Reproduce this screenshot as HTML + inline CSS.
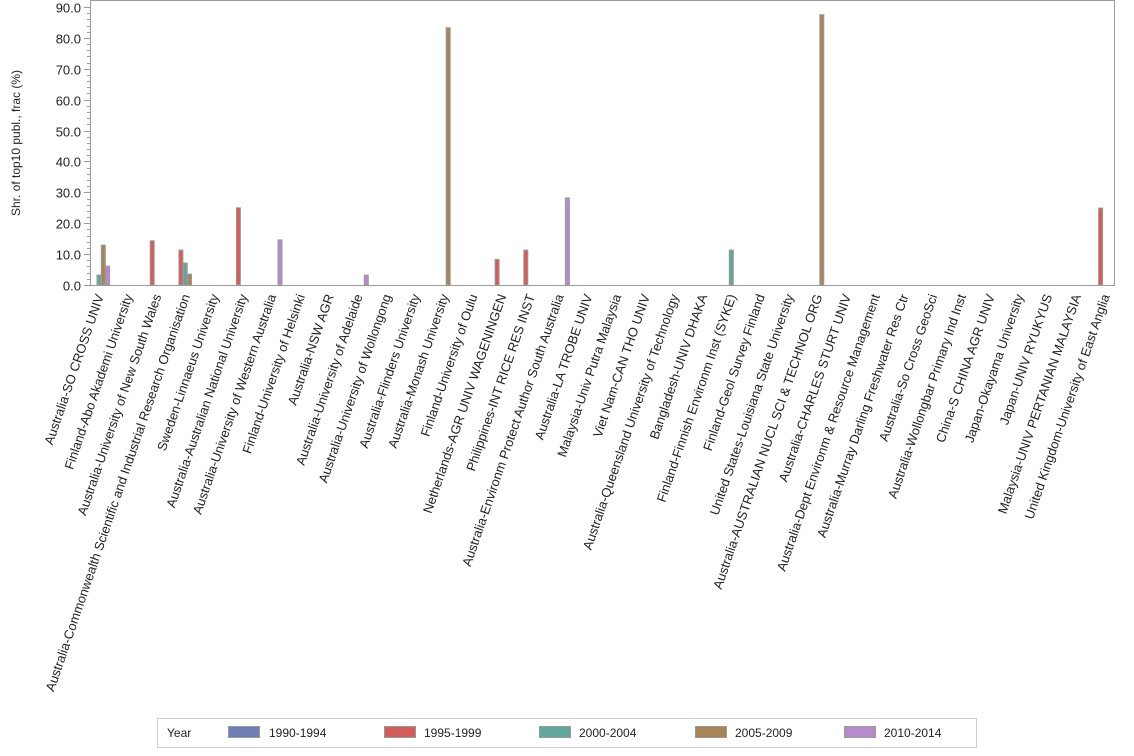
<!DOCTYPE html>
<html><head><meta charset="utf-8"><style>
html,body{margin:0;padding:0;background:#fff;}
svg{display:block;font-family:"Liberation Sans",Arial,sans-serif;}
</style></head><body>
<svg width="1134" height="756" viewBox="0 0 1134 756" xmlns="http://www.w3.org/2000/svg">
<rect x="0" y="0" width="1134" height="756" fill="#fff"/>
<rect x="90.5" y="0.5" width="1024" height="285" fill="none" stroke="#9a9a9a"/>
<g id="ticks" stroke="#9a9a9a"></g>
<g id="ylab" font-size="13" fill="#222" text-anchor="end"></g>
<text transform="translate(20,143) rotate(-90)" text-anchor="middle" font-size="12" fill="#222">Shr. of top10 publ., frac (%)</text>
<g id="bars" stroke="#9a9a9a" stroke-width="1"></g>
<g id="xlab" font-size="13" fill="#222" text-anchor="end"></g>
<rect x="157.5" y="718.5" width="819" height="29" fill="#fff" stroke="#cfcfcf"/>
<g font-size="12" fill="#222">
<text x="167" y="737">Year</text>
<rect x="228.5" y="726.5" width="31" height="11" fill="#6f7fb5" stroke="#9a9a9a"/><text x="269" y="737">1990-1994</text>
<rect x="384.5" y="726.5" width="31" height="11" fill="#d35c5c" stroke="#9a9a9a"/><text x="424" y="737">1995-1999</text>
<rect x="539.5" y="726.5" width="31" height="11" fill="#63a69c" stroke="#9a9a9a"/><text x="579" y="737">2000-2004</text>
<rect x="695.5" y="726.5" width="31" height="11" fill="#a88558" stroke="#9a9a9a"/><text x="735" y="737">2005-2009</text>
<rect x="844.5" y="726.5" width="31" height="11" fill="#b58bcb" stroke="#9a9a9a"/><text x="884" y="737">2010-2014</text>
</g>
<script>
var ns="http://www.w3.org/2000/svg";
function el(p,t,a,txt){var e=document.createElementNS(ns,t);for(var k in a)e.setAttribute(k,a[k]);if(txt)e.textContent=txt;p.appendChild(e);}
var y0=285,sc=278/90;
var tk=document.getElementById('ticks'),yl=document.getElementById('ylab');
for(var v=0;v<=90;v+=2){var y=Math.round(y0-v*sc)+0.5;el(tk,'line',{x1:v%10==0?84:87,x2:90,y1:y,y2:y});if(v%10==0)el(yl,'text',{x:81,y:y+5},v.toFixed(1));}
var labs=["Australia-SO CROSS UNIV","Finland-Abo Akademi University","Australia-University of New South Wales","Australia-Commonwealth Scientific and Industrial Research Organisation","Sweden-Linnaeus University","Australia-Australian National University","Australia-University of Western Australia","Finland-University of Helsinki","Australia-NSW AGR","Australia-University of Adelaide","Australia-University of Wollongong","Australia-Flinders University","Australia-Monash University","Finland-University of Oulu","Netherlands-AGR UNIV WAGENINGEN","Philippines-INT RICE RES INST","Australia-Environm Protect Author South Australia","Australia-LA TROBE UNIV","Malaysia-Univ Putra Malaysia","Viet Nam-CAN THO UNIV","Australia-Queensland University of Technology","Bangladesh-UNIV DHAKA","Finland-Finnish Environm Inst (SYKE)","Finland-Geol Survey Finland","United States-Louisiana State University","Australia-AUSTRALIAN NUCL SCI & TECHNOL ORG","Australia-CHARLES STURT UNIV","Australia-Dept Environm & Resource Management","Australia-Murray Darling Freshwater Res Ctr","Australia-So Cross GeoSci","Australia-Wollongbar Primary Ind Inst","China-S CHINA AGR UNIV","Japan-Okayama University","Japan-UNIV RYUKYUS","Malaysia-UNIV PERTANIAN MALAYSIA","United Kingdom-University of East Anglia"];
var cols=["#6f7fb5","#d35c5c","#63a69c","#a88558","#b58bcb"];
var data=[[0,2,3.2],[0,3,12.9],[0,4,6.1],[2,1,14.3],[3,1,11.3],[3,2,7.1],[3,3,3.5],[5,1,25],[6,4,14.6],[9,4,3.2],[12,3,83.3],[14,1,8.3],[15,1,11.3],[16,4,28.2],[22,2,11.3],[25,3,87.5],[35,1,24.9]];
var xl=document.getElementById('xlab'),bg=document.getElementById('bars');
function cx(i){return 99+i*28.74;}
labs.forEach(function(l,i){var x=cx(i)+5,y=296;el(xl,'text',{transform:'translate('+x.toFixed(1)+','+y+') rotate(-71)'},l);});
data.forEach(function(d){var x=cx(d[0])+(d[1]-2)*4.3-2,h=d[2]*sc;el(bg,'rect',{x:x.toFixed(1),y:(y0-h).toFixed(1),width:4,height:h.toFixed(1),fill:cols[d[1]]});});
</script>
</svg>
</body></html>
